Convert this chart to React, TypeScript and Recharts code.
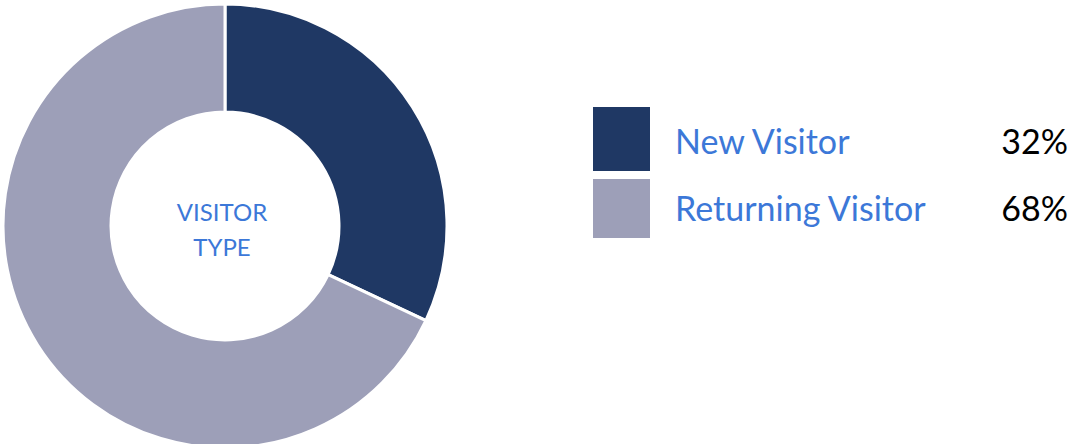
import React from 'react';
import { PieChart, Pie, Cell, Legend } from 'recharts';

const categories = ['New Visitor', 'Returning Visitor'];
const shares = [32, 68];
const colors = ['#1F3864', '#9D9FB8'];
const centerLines = ['VISITOR', 'TYPE'];

const data = categories.map((name, i) => ({ name, value: shares[i] }));

const FONT = 'Lato, "Open Sans", sans-serif';

const VisitorLegend = () => (
  <div style={{ fontFamily: FONT, position: 'relative', width: 476, height: 132 }}>
    {data.map((d, i) => {
      const top = i === 0 ? 0 : 72;
      const h = i === 0 ? 64 : 59;
      const textTop = i === 0 ? 14 : 81;
      return (
        <React.Fragment key={d.name}>
          <div style={{ position: 'absolute', left: 0, top, width: 57, height: h, background: colors[i] }} />
          <div style={{ position: 'absolute', left: 82, top: textTop, color: '#3C78D8', fontSize: 34, lineHeight: '40px', whiteSpace: 'nowrap' }}>
            {d.name}
          </div>
          <div style={{ position: 'absolute', right: 1, top: textTop, color: '#000', fontSize: 34, lineHeight: '40px' }}>
            {d.value}%
          </div>
        </React.Fragment>
      );
    })}
  </div>
);

const App: React.FC = () => {
  return (
    <div style={{ position: 'absolute', left: 0, top: 0, background: '#fff' }}>
      <PieChart width={1071} height={444} margin={{ top: 0, right: 0, bottom: 0, left: 0 }}>
        <Pie
          data={data}
          dataKey="value"
          nameKey="name"
          cx={225}
          cy={226}
          innerRadius={114}
          outerRadius={222}
          startAngle={90}
          endAngle={-270}
          stroke="#fff"
          strokeWidth={3}
          isAnimationActive={false}
        >
          {data.map((d, i) => (
            <Cell key={d.name} fill={colors[i]} />
          ))}
        </Pie>
        <text textAnchor="middle" fill="#3C78D8" fontFamily={FONT} fontSize={24}>
          {centerLines.map((line, i) => (
            <tspan key={line} x={222} y={221 + i * 35}>
              {line}
            </tspan>
          ))}
        </text>
        <Legend
          layout="vertical"
          content={<VisitorLegend />}
          wrapperStyle={{ left: 593, top: 107, width: 476 }}
        />
      </PieChart>
    </div>
  );
};

export default App;
